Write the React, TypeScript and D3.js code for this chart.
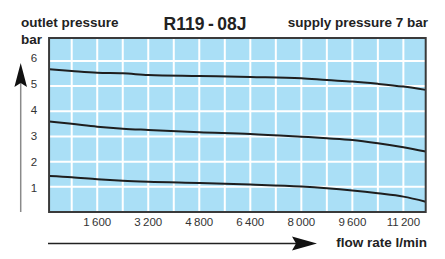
import React from 'react';
import * as d3 from 'd3';

// flow rate (l/min) at which the curves were read
const flow = [100, 800, 1600, 2400, 3200, 4800, 6400, 8000, 8800, 9600, 10400, 11200, 11900];
// outlet pressure (bar) for three regulator settings
const highSetting = [5.67, 5.6, 5.53, 5.51, 5.44, 5.4, 5.36, 5.31, 5.24, 5.18, 5.09, 4.98, 4.85];
const midSetting = [3.59, 3.5, 3.39, 3.31, 3.26, 3.17, 3.1, 2.99, 2.93, 2.86, 2.73, 2.57, 2.4];
const lowSetting = [1.43, 1.38, 1.3, 1.24, 1.2, 1.15, 1.09, 1.01, 0.94, 0.85, 0.74, 0.61, 0.41];

const xGrid = [800, 1600, 2400, 3200, 4000, 4800, 5600, 6400, 7200, 8000, 8800, 9600, 10400, 11200];
const xTicks = [1600, 3200, 4800, 6400, 8000, 9600, 11200];
const yTicks = [1, 2, 3, 4, 5, 6];

const FONT = '"Liberation Sans", Arial, Helvetica, sans-serif';

export default function App() {
  const x = d3.scaleLinear().domain([0, 12000]).range([46.2, 428.9]);
  const y = d3.scaleLinear().domain([0, 6.91]).range([212, 38]);
  const left = x(90);
  const right = x(11900);
  const top = y(6.91);
  const bottom = y(0);

  const line = d3.line<[number, number]>()
    .x(d => x(d[0]))
    .y(d => y(d[1]))
    .curve(d3.curveMonotoneX);

  const series = [highSetting, midSetting, lowSetting].map(vals =>
    flow.map((f, i) => [f, vals[i]] as [number, number])
  );

  const fmt = (v: number) => {
    const s = String(v);
    return s.length > 3 ? s.slice(0, s.length - 3) + '\u2009' + s.slice(-3) : s;
  };

  return (
    <svg width={445} height={259} style={{ position: 'absolute', left: 0, top: 0, background: '#fff' }}>
      <rect x={left} y={top} width={right - left} height={bottom - top} fill="#aadff6" />
      {xGrid.map(v => (
        <line key={'gx' + v} x1={x(v)} x2={x(v)} y1={top} y2={bottom} stroke="#fff" strokeWidth={2} />
      ))}
      {yTicks.map(v => (
        <line key={'gy' + v} x1={left} x2={right} y1={y(v)} y2={y(v)} stroke="#fff" strokeWidth={2} />
      ))}
      {series.map((s, i) => (
        <path key={'s' + i} d={line(s) ?? ''} fill="none" stroke="#1e1e1e" strokeWidth={2} />
      ))}
      <rect x={left} y={top} width={right - left} height={bottom - top} fill="none" stroke="#3a3a3a" strokeWidth={2} />

      {xTicks.map(v => (
        <text key={'tx' + v} x={x(v)} y={226} textAnchor="middle" fontFamily={FONT} fontSize={11.5} fill="#333">
          {fmt(v)}
        </text>
      ))}
      {yTicks.map(v => (
        <text key={'ty' + v} x={34} y={y(v) + 5 - (v - 1) * 0.8} textAnchor="middle" fontFamily={FONT} fontSize={11.5} fill="#333">
          {v}
        </text>
      ))}

      {/* vertical arrow */}
      <line x1={20.7} x2={20.7} y1={212} y2={80} stroke="#8a8a8a" strokeWidth={1.5} />
      <path d="M20.7,63 L27,87 L20.7,83 L14.4,87 Z" fill="#111" />
      {/* horizontal arrow */}
      <line x1={48} x2={300} y1={243.5} y2={243.5} stroke="#222" strokeWidth={1.5} />
      <path d="M317,243.5 L292,236.5 L296,243.5 L292,250.5 Z" fill="#111" />

      <text x={21} y={27} fontFamily={FONT} fontSize={13.5} fontWeight="bold" fill="#222">outlet pressure</text>
      <text x={21} y={44} fontFamily={FONT} fontSize={13.5} fontWeight="bold" fill="#222">bar</text>
      <text x={205} y={30} textAnchor="middle" fontFamily={FONT} fontSize={17.5} fontWeight="bold" fill="#222">R119{'\u2009'}-{'\u2009'}08J</text>
      <text x={428} y={27} textAnchor="end" fontFamily={FONT} fontSize={13.5} fontWeight="bold" fill="#222">supply pressure 7 bar</text>
      <text x={427} y={247} textAnchor="end" fontFamily={FONT} fontSize={13.5} fontWeight="bold" fill="#222">flow rate l/min</text>
    </svg>
  );
}
